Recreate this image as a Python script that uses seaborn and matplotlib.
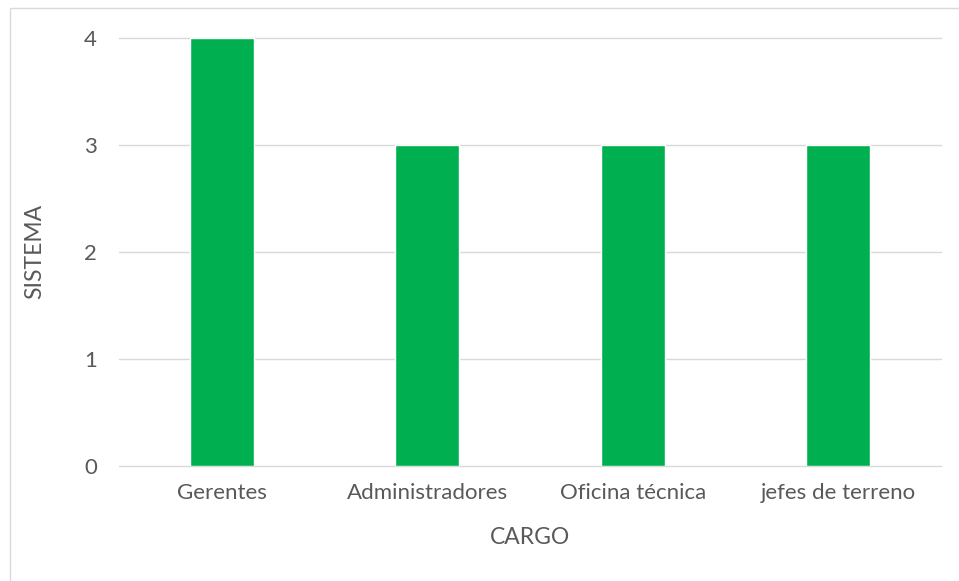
import matplotlib
matplotlib.use("Agg")
import matplotlib.pyplot as plt
import seaborn as sns
import pandas as pd
from matplotlib.patches import Rectangle

categories = ["Gerentes", "Administradores", "Oficina técnica", "jefes de terreno"]
values = [4, 3, 3, 3]
yticks = [0, 1, 2, 3, 4]

sns.set_theme(style="white")
plt.rcParams['font.family'] = ['Lato', 'DejaVu Sans']

W, H = 959, 581
fig = plt.figure(figsize=(W / 100, H / 100), dpi=100)
fig.patch.set_facecolor("white")

# outer chart border
fig.patches.append(Rectangle((10 / W, -0.1), 1.2, 1 - 8 / H + 0.1, transform=fig.transFigure,
                             fill=False, edgecolor="#D9D9D9", linewidth=1.0, zorder=0))

left, right = 119 / W, 941 / W
bottom, top = 1 - 466 / H, 1 - 37.5 / H
ax = fig.add_axes([left, bottom, right - left, top - bottom])

df = pd.DataFrame({"cargo": categories, "sistema": values})
sns.barplot(data=df, x="cargo", y="sistema", color="#00B050", saturation=1,
            width=0.31, ax=ax, zorder=3)

ax.set_ylim(0, 4)
ax.set_xlim(-0.5, 3.5)
ax.set_yticks(yticks)
ax.set_yticklabels([str(t) for t in yticks])
ax.grid(axis="y", color="#D9D9D9", linewidth=1.0, zorder=0)
for gl in ax.get_ygridlines():
    gl.set_clip_on(False)
ax.set_axisbelow(True)
for s in ax.spines.values():
    s.set_visible(False)
ax.tick_params(axis="both", length=0, labelsize=16, colors="#595959")
ax.tick_params(axis="y", pad=16)
ax.tick_params(axis="x", pad=12)

ax.set_xlabel("CARGO", fontsize=16.5, color="#595959")
ax.set_ylabel("SISTEMA", fontsize=16.5, color="#595959")
ax.xaxis.set_label_coords(0.5, -(537 - 466) / (466 - 37.5))
ax.xaxis.label.set_va("center")
ax.yaxis.set_label_coords(-(119 - 35) / (941 - 119), 0.5)
ax.yaxis.label.set_va("center")

fig.savefig("out.png", dpi=100, facecolor="white")
